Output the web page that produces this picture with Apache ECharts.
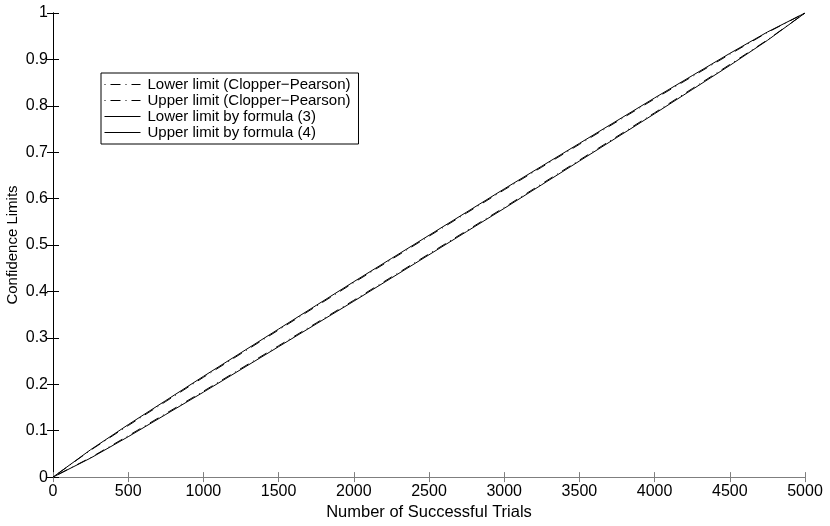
<!DOCTYPE html>
<html>
<head>
<meta charset="utf-8">
<script src="https://cdn.jsdelivr.net/npm/echarts@6/dist/echarts.min.js"></script>
<style>
  html, body { margin: 0; padding: 0; background: #fff; }
  #chart { width: 830px; height: 526px; }
</style>
</head>
<body>
<div id="chart"></div>
<script>
// number of successful trials (x)
const trials = [0, 250, 500, 750, 1000, 1250, 1500, 1750, 2000, 2250, 2500,
  2750, 3000, 3250, 3500, 3750, 4000, 4250, 4500, 4750, 5000];

// values
const lowerCP = [0, 0.042, 0.089, 0.137, 0.185, 0.234, 0.283, 0.332, 0.381, 0.431, 0.481,
  0.531, 0.581, 0.632, 0.683, 0.734, 0.785, 0.837, 0.889, 0.942, 1];
const upperCP = [0, 0.058, 0.111, 0.163, 0.215, 0.266, 0.317, 0.368, 0.419, 0.469, 0.519,
  0.569, 0.619, 0.668, 0.717, 0.766, 0.815, 0.863, 0.911, 0.958, 1];
const lowerFormula = [0, 0.041, 0.087, 0.135, 0.183, 0.232, 0.281, 0.330, 0.379, 0.429, 0.479,
  0.529, 0.579, 0.630, 0.681, 0.732, 0.783, 0.835, 0.887, 0.941, 1];
const upperFormula = [0, 0.059, 0.113, 0.165, 0.217, 0.268, 0.319, 0.370, 0.421, 0.471, 0.521,
  0.571, 0.621, 0.670, 0.719, 0.768, 0.817, 0.865, 0.913, 0.959, 1];

const seriesNames = [
  "Lower limit (Clopper\u2212Pearson)",
  "Upper limit (Clopper\u2212Pearson)",
  "Lower limit by formula (3)",
  "Upper limit by formula (4)",
];

const font = "'Liberation Sans', Arial, Helvetica, sans-serif";
const grey = "#7f7f7f";

const pairs = (ys) => trials.map((x, i) => [x, ys[i]]);

const chart = echarts.init(document.getElementById("chart"));

const mkLine = (name, ys, dashed, z) => ({
  name: name,
  type: "line",
  data: pairs(ys),
  showSymbol: false,
  symbol: "none",
  animation: false,
  z: z,
  lineStyle: {
    color: "#000",
    width: 1,
    type: dashed ? [1, 5, 10, 5] : "solid",
  },
  itemStyle: { color: "#000" },
});

const option = {
  animation: false,
  grid: { left: 53, right: 25, top: 13, bottom: 37, containLabel: false },
  legend: {
    orient: "vertical",
    left: 101,
    top: 73,
    padding: [4, 8, 4, 3],
    itemGap: 1,
    itemWidth: 36,
    itemHeight: 14,
    borderColor: "#000",
    borderWidth: 1,
    backgroundColor: "#fff",
    itemStyle: { opacity: 0, borderWidth: 0 },
    lineStyle: { width: 1 },
    textStyle: { fontFamily: font, fontSize: 15, color: "#000", padding: [0, 0, 0, 2] },
    data: seriesNames,
  },
  xAxis: [
    {
      type: "value",
      min: 0,
      max: 5000,
      interval: 500,
      position: "bottom",
      name: "Number of Successful Trials",
      nameLocation: "middle",
      nameGap: 18,
      nameTextStyle: { fontFamily: font, fontSize: 16.5, color: "#000" },
      axisLine: { show: true, lineStyle: { color: grey, width: 1 } },
      axisTick: { show: true, inside: true, length: 5, lineStyle: { color: grey } },
      axisLabel: { fontFamily: font, fontSize: 16, color: "#000", margin: 6, formatter: (v) => String(v) },
      splitLine: { show: false },
    },
    {
      type: "value",
      min: 0,
      max: 5000,
      interval: 500,
      position: "top",
      axisLine: { show: true, lineStyle: { color: grey, width: 1 } },
      axisTick: { show: true, inside: true, length: 5, lineStyle: { color: grey } },
      axisLabel: { show: false },
      splitLine: { show: false },
    },
  ],
  yAxis: [
    {
      type: "value",
      min: 0,
      max: 1,
      interval: 0.1,
      position: "left",
      axisLine: { show: true, lineStyle: { color: "#000", width: 1 } },
      axisTick: { show: true, inside: true, length: 6, lineStyle: { color: "#000" } },
      axisLabel: { fontFamily: font, fontSize: 16, color: "#000", margin: 5 },
      splitLine: { show: false },
    },
    {
      type: "value",
      min: 0,
      max: 1,
      interval: 0.1,
      position: "right",
      axisLine: { show: true, lineStyle: { color: "#000", width: 1 } },
      axisTick: { show: true, inside: true, length: 6, lineStyle: { color: "#000" } },
      axisLabel: { show: false },
      splitLine: { show: false },
    },
  ],
  graphic: [
    {
      type: "text",
      x: 13,
      y: 245,
      rotation: Math.PI / 2,
      style: {
        text: "Confidence Limits",
        font: "15px 'Liberation Sans', Arial, sans-serif",
        fill: "#000",
        align: "center",
        verticalAlign: "middle",
      },
    },
  ],
  series: [
    mkLine(seriesNames[2], lowerFormula, false, 2),
    mkLine(seriesNames[3], upperFormula, false, 2),
    mkLine(seriesNames[0], lowerCP, true, 3),
    mkLine(seriesNames[1], upperCP, true, 3),
  ],
};

chart.setOption(option);
</script>
</body>
</html>
